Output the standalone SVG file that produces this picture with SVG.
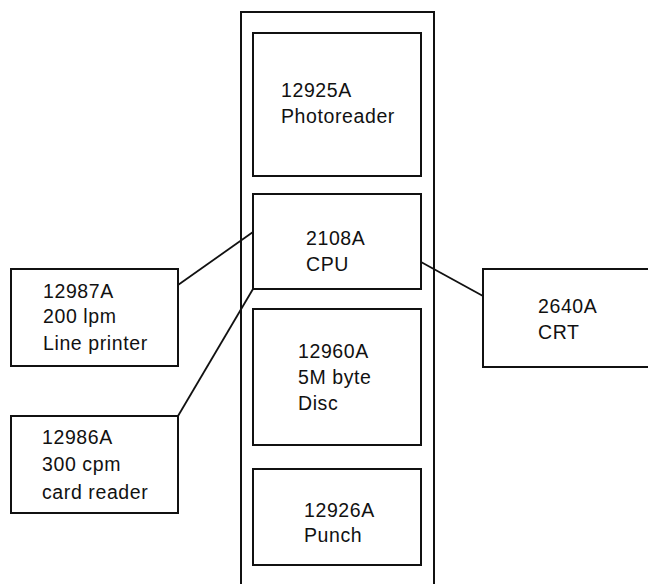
<svg xmlns="http://www.w3.org/2000/svg" width="648" height="584" viewBox="0 0 648 584">
<style>
.box{fill:none;stroke:#111;stroke-width:2}
.ln{fill:none;stroke:#111;stroke-width:1.8}
text{font-family:"Liberation Sans",Arial,sans-serif;font-size:19.5px;fill:#111;letter-spacing:0.6px}
</style>
<rect width="648" height="584" fill="#fff"/>
<g id="rack"><rect class="box" x="241" y="12" width="193" height="600"/></g>
<g id="photoreader"><rect class="box" x="253" y="33" width="168" height="143"/><text x="281" y="97">12925A</text><text x="281" y="123">Photoreader</text></g>
<g id="cpu"><rect class="box" x="253" y="194" width="168" height="95"/><text x="306" y="245">2108A</text><text x="306" y="271">CPU</text></g>
<g id="disc"><rect class="box" x="253" y="309" width="168" height="136"/><text x="298" y="358">12960A</text><text x="298" y="384">5M byte</text><text x="298" y="410">Disc</text></g>
<g id="punch"><rect class="box" x="253" y="469" width="168" height="96"/><text x="304" y="517">12926A</text><text x="304" y="542">Punch</text></g>
<g id="printer"><rect class="box" x="11" y="269" width="167" height="97"/><text x="43" y="298">12987A</text><text x="43" y="323">200 lpm</text><text x="43" y="350">Line printer</text></g>
<g id="cardreader"><rect class="box" x="11" y="416" width="167" height="97"/><text x="42" y="444">12986A</text><text x="42" y="471">300 cpm</text><text x="42" y="499">card reader</text></g>
<g id="crt"><rect class="box" x="483" y="269" width="200" height="98"/><text x="538" y="313">2640A</text><text x="538" y="339">CRT</text></g>
<g id="connectors">
<line class="ln" x1="178" y1="285" x2="253" y2="232"/>
<line class="ln" x1="178" y1="416" x2="253" y2="289"/>
<line class="ln" x1="421" y1="262" x2="483" y2="296"/>
</g>
</svg>
